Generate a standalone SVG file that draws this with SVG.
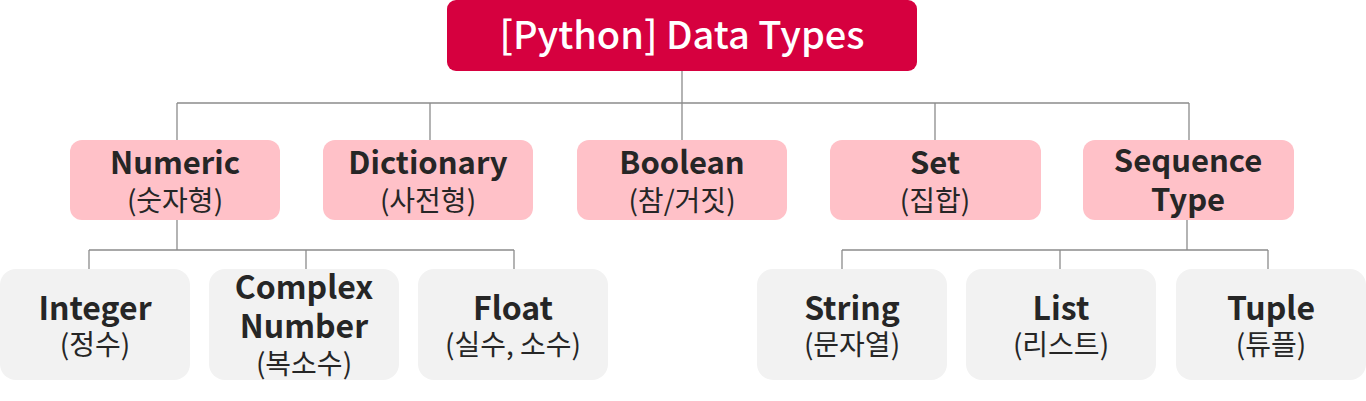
<svg xmlns="http://www.w3.org/2000/svg" width="1366" height="401" viewBox="0 0 1366 401">
<style>
.root{fill:#D6003F}
.l2{fill:#FFC1C8}
.l3{fill:#F2F2F2}
text{font-family:"Noto Sans CJK KR","Noto Sans",sans-serif;text-anchor:middle;fill:#262626}
.t{font-size:38px;font-weight:500;fill:#FFFFFF}
.b{font-size:31px;font-weight:700}
.b3{font-size:32px;font-weight:700}
.k{font-size:28px;font-weight:400}
.c{fill:none;stroke:#8C8C8C;stroke-width:1.3}
</style>
<defs>
<clipPath id="clipC"><rect x="209" y="269" width="190" height="111" rx="16"/></clipPath>
</defs>
<rect width="1366" height="401" fill="#FFFFFF"/>
<g id="connectors">
<path class="c" d="M682 71V103M177 103H1189M177 103V140M430 103V140M682 103V140M935 103V140M1189 103V140"/>
<path class="c" d="M177 220V250M89 250H514M89 250V269M306 250V269M514 250V269"/>
<path class="c" d="M1187 220V250M842 250H1268M842 250V269M1060 250V269M1268 250V269"/>
</g>
<g id="root"><rect class="root" x="447" y="0" width="470" height="71" rx="9"/><text class="t" x="682" y="49">[Python] Data Types</text></g>
<g id="numeric"><rect class="l2" x="70" y="140" width="210" height="80" rx="12"/><text class="b" x="175" y="174">Numeric</text><text class="k" x="175" y="211">(숫자형)</text></g>
<g id="dictionary"><rect class="l2" x="323" y="140" width="210" height="80" rx="12"/><text class="b" x="428" y="174">Dictionary</text><text class="k" x="428" y="211">(사전형)</text></g>
<g id="boolean"><rect class="l2" x="577" y="140" width="210" height="80" rx="12"/><text class="b" x="682" y="174">Boolean</text><text class="k" x="682" y="211">(참/거짓)</text></g>
<g id="set"><rect class="l2" x="830" y="140" width="211" height="80" rx="12"/><text class="b" x="935" y="174">Set</text><text class="k" x="935" y="211">(집합)</text></g>
<g id="sequence"><rect class="l2" x="1083" y="140" width="211" height="80" rx="12"/><text class="b" x="1188" y="172">Sequence</text><text class="b" x="1188" y="211">Type</text></g>
<g id="integer"><rect class="l3" x="0" y="269" width="190" height="111" rx="16"/><text class="b3" x="95" y="320">Integer</text><text class="k" x="95" y="355">(정수)</text></g>
<g id="complex"><rect class="l3" x="209" y="269" width="190" height="111" rx="16"/><g clip-path="url(#clipC)"><text class="b3" x="304" y="299">Complex</text><text class="b3" x="304" y="338">Number</text><text class="k" x="304" y="374">(복소수)</text></g></g>
<g id="float"><rect class="l3" x="418" y="269" width="190" height="111" rx="16"/><text class="b3" x="513" y="320">Float</text><text class="k" x="513" y="355">(실수, 소수)</text></g>
<g id="string"><rect class="l3" x="757" y="269" width="190" height="111" rx="16"/><text class="b3" x="852" y="320">String</text><text class="k" x="852" y="355">(문자열)</text></g>
<g id="list"><rect class="l3" x="966" y="269" width="190" height="111" rx="16"/><text class="b3" x="1061" y="320">List</text><text class="k" x="1061" y="355">(리스트)</text></g>
<g id="tuple"><rect class="l3" x="1176" y="269" width="190" height="111" rx="16"/><text class="b3" x="1271" y="320">Tuple</text><text class="k" x="1271" y="355">(튜플)</text></g>
</svg>
